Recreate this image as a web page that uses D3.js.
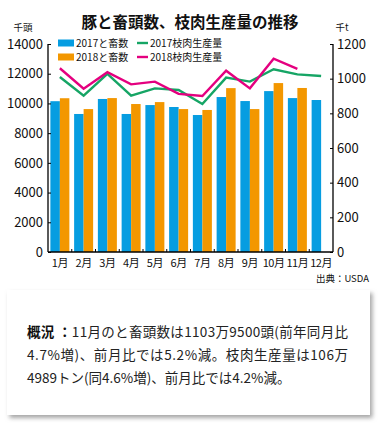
<!DOCTYPE html>
<html><head><meta charset="utf-8">
<script src="https://cdn.jsdelivr.net/npm/d3@7"></script>
<style>
html,body{margin:0;padding:0;background:#fff;}
svg{display:block;font-family:"Noto Sans CJK JP","Noto Sans",sans-serif;}
</style></head>
<body>
<svg id="c" width="382" height="429"></svg>
<script>
const months = ["1月","2月","3月","4月","5月","6月","7月","8月","9月","10月","11月","12月"];
const heads2017 = [10150,9290,10300,9290,9890,9760,9220,10430,10160,10830,10360,10230];
const heads2018 = [10350,9620,10360,9960,10090,9620,9560,11030,9620,11370,11040,null];
const prod2017 = [1010,902,1027,902,944,935,854,1006,983,1054,1025,1015];
const prod2018 = [1060,942,1037,967,983,912,900,1046,944,1115,1056,null];
const leftTicks = [0,2000,4000,6000,8000,10000,12000,14000];
const rightTicks = [0,200,400,600,800,1000,1200];
const legendItems = [
  {label:"2017と畜数", type:"bar", color:"#069de1"},
  {label:"2017枝肉生産量", type:"line", color:"#16a565"},
  {label:"2018と畜数", type:"bar", color:"#f39700"},
  {label:"2018枝肉生産量", type:"line", color:"#e4007f"}
];
const noteLines = [
  ["概況 ：", "11月のと畜頭数は1103万9500頭(前年同月比"],
  ["", "4.7%増)、前月比では5.2%減。枝肉生産量は106万"],
  ["", "4989トン(同4.6%増)、前月比では4.2%減。"]
];

const svg = d3.select("#c");
const L = 48, R = 333, T = 44, B = 252;
const x = d3.scaleBand().domain(months).range([L, R]).paddingInner(0.2).paddingOuter(0.1);
const xs = d3.scaleBand().domain(["a","b"]).range([0, x.bandwidth()]);
const xc = d3.scalePoint().domain(months).range([L, R]).padding(0.5);
const yL = d3.scaleLinear().domain([0,14000]).range([B, T]);
const yR = d3.scaleLinear().domain([0,1200]).range([B, T]);

// title
svg.append("text").attr("x",190).attr("y",28).attr("text-anchor","middle")
  .attr("font-size",15.5).attr("font-weight","bold").attr("fill","#111").text("豚と畜頭数、枝肉生産量の推移");
svg.append("text").attr("x",23).attr("y",31).attr("text-anchor","middle").attr("font-size",9.5).attr("fill","#111").text("千頭");
svg.append("text").attr("x",342).attr("y",31).attr("text-anchor","middle").attr("font-size",9.5).attr("fill","#111").text("千t");

// bars
const g = svg.append("g");
months.forEach((m,i)=>{
  [[heads2017[i],"a","#069de1"],[heads2018[i],"b","#f39700"]].forEach(([v,k,c])=>{
    if(v==null) return;
    g.append("rect").attr("x",x(m)+xs(k)).attr("width",xs.bandwidth())
      .attr("y",yL(v)).attr("height",yL(0)-yL(v)).attr("fill",c);
  });
});

// lines
const line = d3.line().defined(d=>d.v!=null).x(d=>xc(d.m)).y(d=>yR(d.v));
[[prod2017,"#16a565"],[prod2018,"#e4007f"]].forEach(([arr,c])=>{
  svg.append("path").datum(months.map((m,i)=>({m,v:arr[i]})))
    .attr("d",line).attr("fill","none").attr("stroke",c).attr("stroke-width",2.4).attr("stroke-linejoin","miter");
});

// axes
const axL = svg.append("g").attr("transform",`translate(${L},0)`)
  .call(d3.axisLeft(yL).tickValues(leftTicks).tickSize(-3).tickPadding(5).tickFormat(d3.format("d")));
const axR = svg.append("g").attr("transform",`translate(${R},0)`)
  .call(d3.axisRight(yR).tickValues(rightTicks).tickSize(-3).tickPadding(4).tickFormat(d3.format("d")));
const bounds = d3.range(1,12).map(i=> L + (R-L)*i/12);
const axB = svg.append("g").attr("transform",`translate(0,${B})`)
  .call(d3.axisBottom(x).tickSize(0).tickPadding(5));
axB.selectAll(".bt").data(bounds).enter().append("line").attr("class","bt")
  .attr("x1",d=>d).attr("x2",d=>d).attr("y1",0).attr("y2",-3).attr("stroke","#000");
[axL,axR,axB].forEach(a=>{
  a.select(".domain").attr("stroke","#000").attr("stroke-width",1.3);
  a.selectAll(".tick line").attr("stroke","#000");
  a.selectAll("text").attr("fill","#111").attr("font-family",'"Noto Sans CJK JP",sans-serif');
});
axL.select(".domain").attr("d",`M0,${T}V${B}`);
axR.select(".domain").attr("d",`M0,${T}V${B}`);
axB.select(".domain").attr("d",`M${L},0H${R}`);
axL.selectAll("text").attr("font-size",13);
axR.selectAll("text").attr("font-size",13);
axB.selectAll("text").attr("font-size",11).attr("letter-spacing",-0.4).attr("dy","0.9em");

// legend
const lgX = [58,137], lgY = [43,57];
legendItems.forEach((d,i)=>{
  const cx = lgX[i%2], cy = lgY[Math.floor(i/2)];
  if(d.type==="bar") svg.append("rect").attr("x",cx).attr("y",cy-3.5).attr("width",16).attr("height",7).attr("fill",d.color);
  else svg.append("line").attr("x1",cx).attr("x2",cx+11).attr("y1",cy).attr("y2",cy).attr("stroke",d.color).attr("stroke-width",2.4);
  svg.append("text").attr("x", d.type==="bar"?cx+18:cx+13).attr("y",cy+3.5).attr("font-size",10).attr("fill","#111").text(d.label);
});

// source
svg.append("text").attr("x",369).attr("y",282).attr("text-anchor","end").attr("font-size",9.5).attr("fill","#111").text("出典：USDA");

// note box
const defs = svg.append("defs");
const f = defs.append("filter").attr("id","sh").attr("x","-10%").attr("y","-10%").attr("width","120%").attr("height","130%");
f.append("feDropShadow").attr("dx",2.5).attr("dy",3).attr("stdDeviation",2).attr("flood-color","#888").attr("flood-opacity",0.75);
svg.append("rect").attr("x",7).attr("y",290).attr("width",363).attr("height",125).attr("fill","#fff").attr("filter","url(#sh)");
const lineY = [337,360,383];
noteLines.forEach((ln,i)=>{
  const t = svg.append("text").attr("x",27).attr("y",lineY[i]).attr("font-size",13.5).attr("fill","#222");
  if(ln[0]) t.append("tspan").attr("font-weight","bold").attr("fill","#111").text(ln[0]);
  t.append("tspan").text(ln[1]);
  if(i<2) t.attr("textLength",321).attr("lengthAdjust","spacing");
});
</script>
</body></html>
